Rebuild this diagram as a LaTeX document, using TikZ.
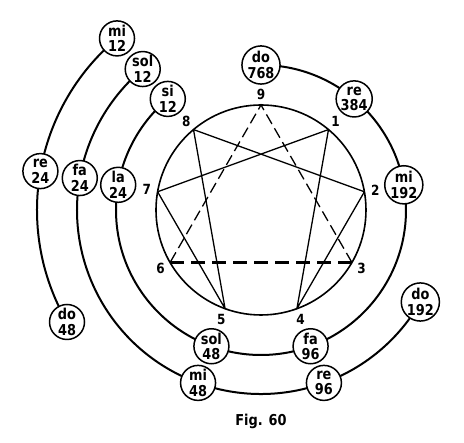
\documentclass[tikz,border=0pt]{standalone}
\usepackage{fontspec}
\setmainfont{DejaVu Sans}
\newfontfamily\notefont[FakeStretch=0.86]{DejaVu Sans Bold}

\begin{document}
\begin{tikzpicture}[x=1pt,y=1pt,
  note/.style={circle, draw, line width=1.5pt, fill=white, minimum size=35pt,
    inner sep=0pt, align=center, font=\notefont\fontsize{15}{15.5}\selectfont},
  ring/.style={line width=2pt},
  digit/.style={font=\notefont\fontsize{14}{14}\selectfont}]

\useasboundingbox (-261,-233) rectangle (203,210);

% octaves
\draw[ring] (90:145) arc[start angle=90, end angle=-230, radius=145];
\draw[ring] (-30:184) arc[start angle=-30, end angle=-230, radius=184];
\draw[ring] (130:224) arc[start angle=130, end angle=210, radius=224];

% enneagram
\coordinate (o) at (0,0);
\draw[line width=1.6pt] (o) circle[radius=105];
\foreach \i in {1,...,9}
  \coordinate (p\i) at ({90-40*\i}:105);

\draw[line width=1.3pt, line join=round] (p1) -- (p4) -- (p2) -- (p8) -- (p5) -- (p7) -- cycle;
\draw[line width=1.3pt, dash pattern=on 11pt off 5pt] (p3) -- (p9) -- (p6);
\draw[line width=3pt, dash pattern=on 14pt off 7pt] (p6) -- (p3);

\foreach \i in {1,...,9}
  \node[digit] (n\i) at ({90-40*\i}:116) {\i};

% notes
\node[note] (do768) at (90:145) {do\\768};
\node[note] (re384) at (50:145) {re\\384};
\node[note] (mi192) at (10:145) {mi\\192};
\node[note] (fa96) at (-70:145) {fa\\96};
\node[note] (sol48) at (-110:145) {sol\\48};
\node[note] (la24) at (170:145) {la\\24};
\node[note] (si12) at (130:145) {si\\12};

\node[note] (do192) at (-30:184) {do\\192};
\node[note] (re96) at (-70:184) {re\\96};
\node[note] (mi48) at (-110:184) {mi\\48};
\node[note] (fa24) at (170:184) {fa\\24};
\node[note] (sol12) at (130:184) {sol\\12};

\node[note] (mi12) at (130:224) {mi\\12};
\node[note] (re24) at (170:224) {re\\24};
\node[note] (do48) at (210:224) {do\\48};

\node[anchor=base, font=\notefont\fontsize{15}{15}\selectfont] (fig) at (0,-215.7) {Fig. 60};

\end{tikzpicture}
\end{document}
